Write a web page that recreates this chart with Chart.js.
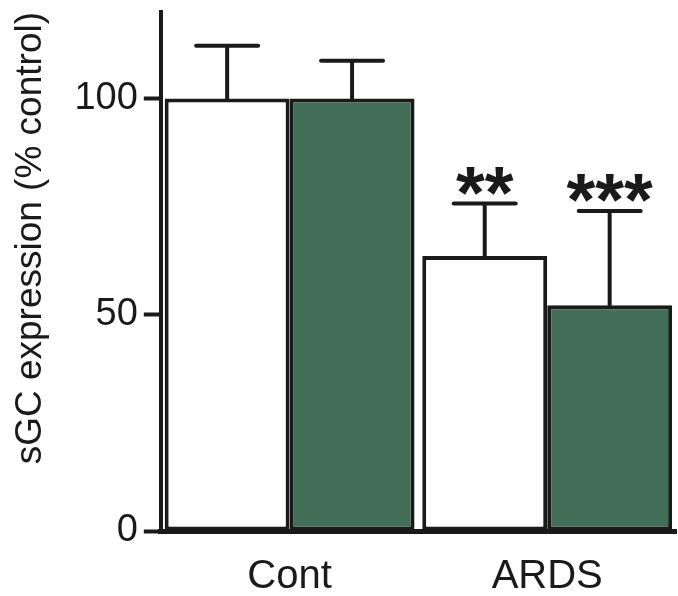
<!DOCTYPE html>
<html>
<head>
<meta charset="utf-8">
<script src="https://cdn.jsdelivr.net/npm/chart.js@4.4.1/dist/chart.umd.min.js"></script>
<style>
  html, body { margin: 0; padding: 0; background: #fff; }
  #wrap { width: 678px; height: 596px; }
</style>
</head>
<body>
<div id="wrap"><canvas id="sgcChart" width="678" height="596"></canvas></div>
<script>
// -- data --
const groups = ['Cont', 'ARDS'];
const whiteValues = [100, 63.6];
const greenValues = [100, 52.2];
const whiteErrors = [12.2, 12.1];
const greenErrors = [8.7, 21.8];
const whiteStars = ['', '**'];
const greenStars = ['', '***'];
const yTicks = [0, 50, 100];

const ink = '#1a1a1a';
const green = '#426e57';

// error bars (upper only) + significance stars
const errorBarPlugin = {
    id: 'errorBars',
    afterDatasetsDraw(chart) {
        const ctx = chart.ctx;
        const y = chart.scales.y;
        const errs = [whiteErrors, greenErrors];
        const stars = [whiteStars, greenStars];
        ctx.save();
        ctx.strokeStyle = ink;
        ctx.lineWidth = 4;
        ctx.lineCap = 'round';
        chart.data.datasets.forEach((ds, di) => {
            const meta = chart.getDatasetMeta(di);
            meta.data.forEach((bar, i) => {
                const top = y.getPixelForValue(ds.data[i]);
                const hi = y.getPixelForValue(ds.data[i] + errs[di][i]);
                ctx.beginPath();
                ctx.moveTo(bar.x, top);
                ctx.lineTo(bar.x, hi);
                ctx.moveTo(bar.x - 31, hi);
                ctx.lineTo(bar.x + 31, hi);
                ctx.stroke();
                if (stars[di][i]) {
                    ctx.fillStyle = ink;
                    ctx.font = 'bold 74px "Liberation Sans", Arial, sans-serif';
                    ctx.textAlign = 'center';
                    ctx.textBaseline = 'alphabetic';
                    ctx.fillText(stars[di][i], bar.x, hi + 14);
                }
            });
        });
        ctx.restore();
    }
};

const tickFont = { family: '"Liberation Sans", Arial, sans-serif', size: 38 };
const catFont = { family: '"Liberation Sans", Arial, sans-serif', size: 40 };
const titleFont = { family: '"Liberation Sans", Arial, sans-serif', size: 37 };

new Chart(document.getElementById('sgcChart'), {
    type: 'bar',
    data: {
        labels: groups,
        datasets: [
            {
                data: whiteValues,
                backgroundColor: '#ffffff',
                borderColor: ink,
                borderWidth: 4,
                borderSkipped: false
            },
            {
                data: greenValues,
                backgroundColor: green,
                borderColor: ink,
                borderWidth: 4,
                borderSkipped: false
            }
        ]
    },
    options: {
        responsive: false,
        animation: false,
        devicePixelRatio: 1,
        layout: { padding: { top: 12, right: 2, left: 9, bottom: -19 } },
        datasets: { bar: { categoryPercentage: 0.97, barPercentage: 1.0 } },
        plugins: {
            legend: { display: false },
            tooltip: { enabled: false }
        },
        scales: {
            x: {
                grid: { display: false },
                border: { display: true, color: ink, width: 5 },
                ticks: { color: ink, font: catFont, padding: 14 }
            },
            y: {
                min: 0,
                max: 120,
                afterBuildTicks: s => { s.ticks = yTicks.map(v => ({ value: v })); },
                afterFit: s => { s.paddingTop = 0; s.paddingBottom = 0; },
                grid: {
                    display: true,
                    drawOnChartArea: false,
                    color: ink,
                    tickLength: 17,
                    tickWidth: 4
                },
                border: { display: true, color: ink, width: 4 },
                ticks: { color: ink, font: tickFont, padding: 6 },
                title: {
                    display: true,
                    align: 'end',
                    text: 'sGC expression (% control)',
                    color: ink,
                    font: titleFont,
                    padding: { top: 0, bottom: 15 }
                }
            }
        }
    },
    plugins: [errorBarPlugin]
});
</script>
</body>
</html>
